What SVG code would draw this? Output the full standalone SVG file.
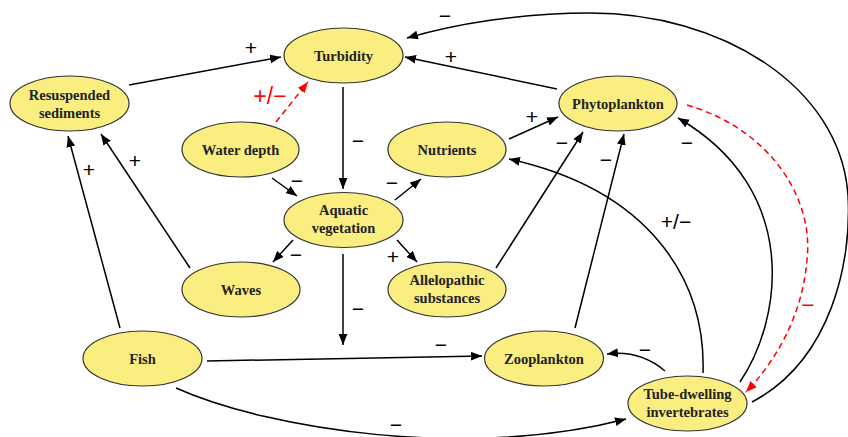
<svg xmlns="http://www.w3.org/2000/svg" width="848" height="437" viewBox="0 0 848 437">
<defs>
<marker id="ah" viewBox="0 0 10 8" refX="10" refY="4" markerWidth="11" markerHeight="9" markerUnits="userSpaceOnUse" orient="auto"><path d="M0,0 L10,4 L0,8 z" fill="#000"/></marker>
<marker id="ahr" viewBox="0 0 10 8" refX="10" refY="4" markerWidth="11" markerHeight="9" markerUnits="userSpaceOnUse" orient="auto"><path d="M0,0 L10,4 L0,8 z" fill="#ff0000"/></marker>
<style>
.n ellipse{fill:#fbee80;stroke:#333;stroke-width:1.2}
.n text{font-family:"Liberation Serif","Times New Roman",serif;font-weight:bold;font-size:14.5px;fill:#222;text-anchor:middle}
.e{fill:none;stroke:#000;stroke-width:1.5;marker-end:url(#ah)}
.r{fill:none;stroke:#ff0000;stroke-width:1.5;stroke-dasharray:6,4;marker-end:url(#ahr)}
.l{font-family:"Liberation Sans",Arial,sans-serif;font-size:21px;fill:#000;text-anchor:middle}
.lr{font-family:"Liberation Sans",Arial,sans-serif;font-size:23px;fill:#ff0000;text-anchor:middle}
</style>
</defs>
<rect width="848" height="437" fill="#fff"/>
<g id="connectors">
<path class="e" d="M129,85 L281,57"/>
<path class="r" d="M276,122 L308,82"/>
<path class="e" d="M343,87 L343,189"/>
<path class="e" d="M272,178 L297,196"/>
<path class="e" d="M395,200 L421,179"/>
<path class="e" d="M509,139 L558,117"/>
<path class="e" d="M557,89 L405,57"/>
<path class="e" d="M752,402 C832,360 852,260 848,195 C840,85 720,13 590,13 C520,13 455,24 407,38"/>
<path class="e" d="M496,268 L583,132"/>
<path class="e" d="M575,328 L624,134"/>
<path class="e" d="M703,373 C706,280 650,190 509,159"/>
<path class="e" d="M740,382 C782,320 802,190 678,118"/>
<path class="r" d="M687,105 C772,130 814,200 807,260 C802,320 772,365 746,392"/>
<path class="e" d="M293,240 L273,262"/>
<path class="e" d="M397,240 L417,262"/>
<path class="e" d="M343,254 L343,345"/>
<path class="e" d="M207,361 L482,356"/>
<path class="e" d="M176,388 C270,430 470,460 626,419"/>
<path class="e" d="M665,371 Q640,350 607,354"/>
<path class="e" d="M190,268 L101,134"/>
<path class="e" d="M120,328 L68,136"/>
</g>
<g id="labels">
<text class="l" x="251" y="55">+</text>
<text class="lr" x="270" y="104">+/−</text>
<text class="l" x="358" y="148">−</text>
<text class="l" x="297" y="188">−</text>
<text class="l" x="392" y="190">−</text>
<text class="l" x="532" y="124">+</text>
<text class="l" x="451" y="64">+</text>
<text class="l" x="445" y="23">−</text>
<text class="l" x="562" y="150">−</text>
<text class="l" x="606" y="167">−</text>
<text class="l" x="676" y="229">+/−</text>
<text class="l" x="687" y="150">−</text>
<text class="lr" x="808" y="313">−</text>
<text class="l" x="296" y="262">−</text>
<text class="l" x="393" y="264">+</text>
<text class="l" x="358" y="316">−</text>
<text class="l" x="441" y="352">−</text>
<text class="l" x="396" y="432">−</text>
<text class="l" x="645" y="357">−</text>
<text class="l" x="135" y="168">+</text>
<text class="l" x="89" y="177">+</text>
</g>
<g id="turbidity" class="n"><ellipse cx="343.5" cy="55.5" rx="59.5" ry="27.5"/><text x="343.5" y="60.5">Turbidity</text></g>
<g id="resuspended" class="n"><ellipse cx="69.5" cy="103.5" rx="59.5" ry="27.5"/><text x="69.5" y="99.5">Resuspended</text><text x="69.5" y="117.5">sediments</text></g>
<g id="waterdepth" class="n"><ellipse cx="240.5" cy="149.5" rx="58.5" ry="27.5"/><text x="240.5" y="154.5">Water depth</text></g>
<g id="nutrients" class="n"><ellipse cx="447" cy="149.5" rx="59" ry="27.5"/><text x="447" y="154.5">Nutrients</text></g>
<g id="phytoplankton" class="n"><ellipse cx="618" cy="103.5" rx="59" ry="27.5"/><text x="618" y="108.5">Phytoplankton</text></g>
<g id="aquatic" class="n"><ellipse cx="343.5" cy="220" rx="59.5" ry="27.5"/><text x="343.5" y="215">Aquatic</text><text x="343.5" y="232.5">vegetation</text></g>
<g id="waves" class="n"><ellipse cx="241" cy="289.5" rx="59" ry="27.5"/><text x="241" y="294.5">Waves</text></g>
<g id="allelopathic" class="n"><ellipse cx="447" cy="289.5" rx="59" ry="27.5"/><text x="447" y="285">Allelopathic</text><text x="447" y="302.5">substances</text></g>
<g id="fish" class="n"><ellipse cx="142.5" cy="358.5" rx="59.5" ry="27.5"/><text x="142.5" y="363.5">Fish</text></g>
<g id="zooplankton" class="n"><ellipse cx="544" cy="358.5" rx="59.5" ry="27.5"/><text x="544" y="363.5">Zooplankton</text></g>
<g id="tube" class="n"><ellipse cx="687.5" cy="403.5" rx="59.5" ry="27.5"/><text x="687.5" y="399">Tube-dwelling</text><text x="687.5" y="416.5">invertebrates</text></g>
</svg>
